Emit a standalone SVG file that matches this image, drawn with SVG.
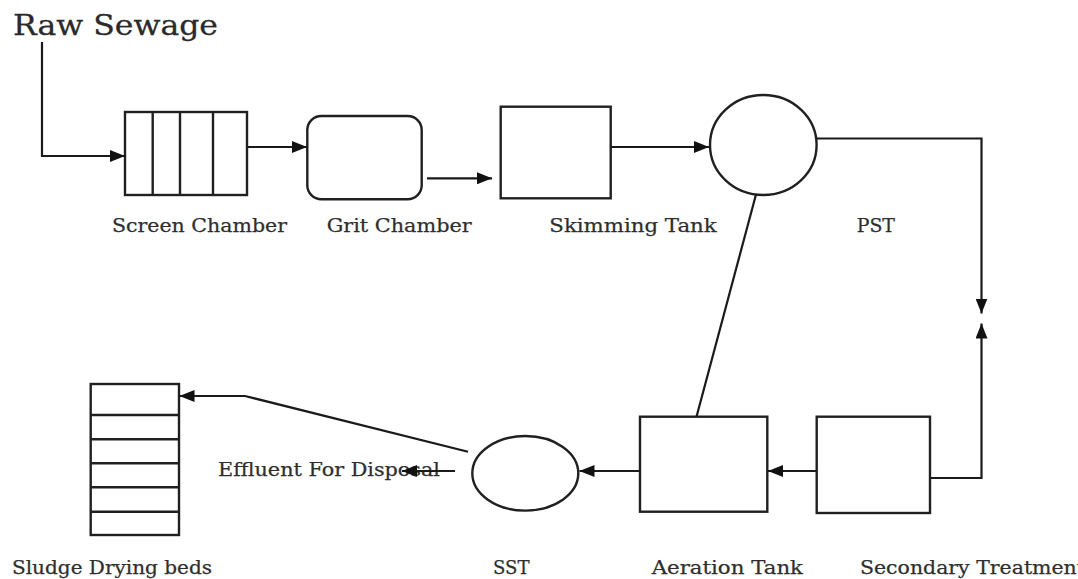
<svg xmlns="http://www.w3.org/2000/svg" width="1078" height="579" viewBox="0 0 1078 579">
<style>
  .shape { fill: #ffffff; stroke: #202020; stroke-width: 2.4; }
  .div { stroke: #202020; stroke-width: 2.4; fill: none; }
  .lbl { font-family: "DejaVu Serif", "Liberation Serif", serif; font-size: 19px; fill: #2e2e2e; stroke: #2e2e2e; stroke-width: 0.25; }
  .big { font-family: "DejaVu Serif", "Liberation Serif", serif; font-size: 28px; fill: #2a2a2a; stroke: #2a2a2a; stroke-width: 0.3; }
  .conn { fill: none; stroke: #1a1a1a; stroke-width: 2.2; }
</style>
<defs>
  <marker id="arr" markerUnits="userSpaceOnUse" markerWidth="15" markerHeight="12" refX="15" refY="6" orient="auto">
    <path d="M0,0 L15,6 L0,12 z" fill="#111111"/>
  </marker>
</defs>
<rect width="1078" height="579" fill="#ffffff"/>

<g id="raw-sewage">
  <text class="big" x="13" y="35" textLength="205" lengthAdjust="spacingAndGlyphs">Raw Sewage</text>
</g>

<g id="screen-chamber">
  <rect class="shape" x="125" y="112" width="122" height="83"/>
  <path class="div" d="M152.7,112 V195 M180,112 V195 M213,112 V195"/>
  <text class="lbl" x="112" y="231.7" textLength="175" lengthAdjust="spacingAndGlyphs">Screen Chamber</text>
</g>

<g id="grit-chamber">
  <rect class="shape" x="307.3" y="116" width="114.4" height="83.3" rx="14" ry="14"/>
  <text class="lbl" x="326.7" y="231.7" textLength="145" lengthAdjust="spacingAndGlyphs">Grit Chamber</text>
</g>

<g id="skimming-tank">
  <rect class="shape" x="500.7" y="106.7" width="110" height="91.6"/>
  <text class="lbl" x="549.3" y="231.7" textLength="167.4" lengthAdjust="spacingAndGlyphs">Skimming Tank</text>
</g>

<g id="pst">
  <ellipse class="shape" cx="763.3" cy="145" rx="53.3" ry="50"/>
  <text class="lbl" x="856.7" y="231.7" textLength="38.3" lengthAdjust="spacingAndGlyphs">PST</text>
</g>

<g id="secondary-treatment">
  <rect class="shape" x="816.7" y="416.7" width="113.3" height="96.3"/>
  <text class="lbl" x="860" y="574" textLength="225" lengthAdjust="spacingAndGlyphs">Secondary Treatment</text>
</g>

<g id="aeration-tank">
  <rect class="shape" x="640" y="416.7" width="127.3" height="95"/>
  <text class="lbl" x="651.7" y="574" textLength="151.3" lengthAdjust="spacingAndGlyphs">Aeration Tank</text>
</g>

<g id="sst">
  <ellipse class="shape" cx="525.3" cy="473.3" rx="53" ry="37.3"/>
  <text class="lbl" x="493" y="574" textLength="36.5" lengthAdjust="spacingAndGlyphs">SST</text>
</g>

<g id="sludge-drying-beds">
  <rect class="shape" x="90.7" y="384" width="88.3" height="151"/>
  <path class="div" d="M90.7,415 H179 M90.7,439.3 H179 M90.7,463.3 H179 M90.7,487.3 H179 M90.7,511.7 H179"/>
  <text class="lbl" x="12" y="574" textLength="200" lengthAdjust="spacingAndGlyphs">Sludge Drying beds</text>
</g>

<g id="effluent">
  <text class="lbl" x="218" y="475.5" textLength="222" lengthAdjust="spacingAndGlyphs">Effluent For Disposal</text>
</g>

<g id="connectors">
  <path class="conn" d="M42,42 V156 H125" marker-end="url(#arr)"/>
  <path class="conn" d="M247,147 H307" marker-end="url(#arr)"/>
  <path class="conn" d="M427,178.3 H492" marker-end="url(#arr)"/>
  <path class="conn" d="M610.7,147 H709" marker-end="url(#arr)"/>
  <path class="conn" d="M816,138.5 H981.5 V313.5" marker-end="url(#arr)"/>
  <path class="conn" d="M930,478 H981.5 V323.5" marker-end="url(#arr)"/>
  <path class="conn" d="M756,194.5 L696.5,416.7"/>
  <path class="conn" d="M816.7,471 H768" marker-end="url(#arr)"/>
  <path class="conn" d="M640,471 H579.5" marker-end="url(#arr)"/>
  <path class="conn" d="M455,471 H402" marker-end="url(#arr)"/>
  <path class="conn" d="M468,451.7 L245,396 H179.5" marker-end="url(#arr)"/>
</g>
</svg>
